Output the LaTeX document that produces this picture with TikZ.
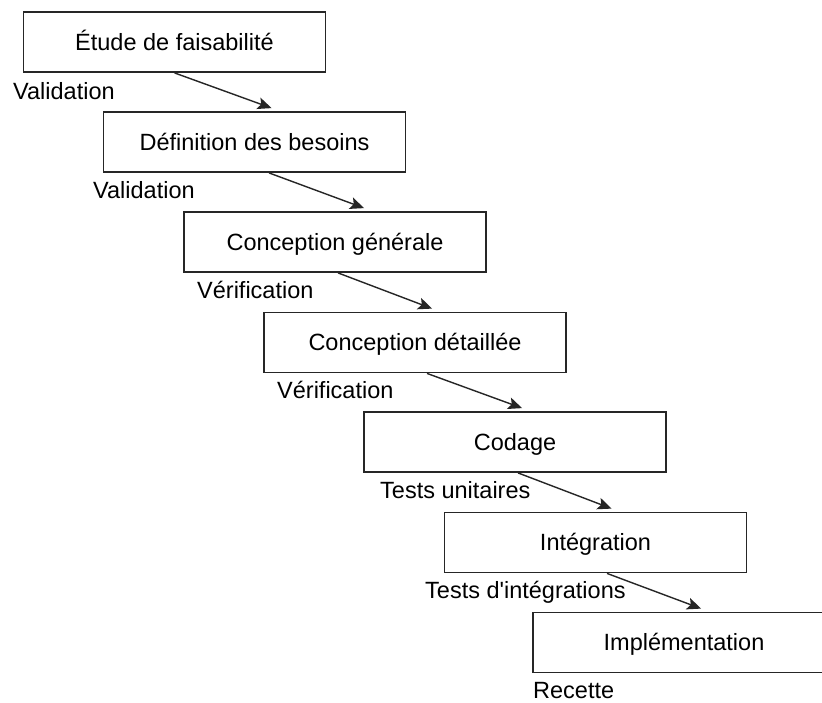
\documentclass[tikz,border=0pt]{standalone}
\usepackage{fontspec}
\setmainfont{Liberation Sans}
\usetikzlibrary{arrows.meta}
\begin{document}
\begin{tikzpicture}[x=1pt,y=-1pt,
  phase/.style={draw=black!85,line width=1.8pt,fill=white,minimum width=302pt,minimum height=60pt,
    inner sep=0pt,text height=17pt,text depth=1pt,font=\fontsize{23.5}{27}\selectfont},
  lbl/.style={anchor=base west,inner sep=0pt,font=\fontsize{23.5}{27}\selectfont},
  arr/.style={draw=black!85,line width=1.4pt,-{Stealth[length=14pt,width=12pt,inset=3pt]}}]
\clip (0,0) rectangle (822,702);
\fill[white] (0,0) rectangle (822,702);
\node[phase] (b1) at (174.5,42) {Étude de faisabilité};
\node[phase] (b2) at (254.5,142) {Définition des besoins};
\node[phase] (b3) at (335,242) {Conception générale};
\node[phase] (b4) at (415,342.5) {Conception détaillée};
\node[phase] (b5) at (515,442) {Codage};
\node[phase] (b6) at (595.5,542.5) {Intégration};
\node[phase] (b7) at (684,642.5) {Implémentation};
\node[lbl] (l1) at (13,99) {Validation};
\node[lbl] (l2) at (93,198) {Validation};
\node[lbl] (l3) at (197,298) {Vérification};
\node[lbl] (l4) at (277,398) {Vérification};
\node[lbl] (l5) at (380,498) {Tests unitaires};
\node[lbl] (l6) at (425,598) {Tests d\textquotesingle intégrations};
\node[lbl] (l7) at (533,698) {Recette};
\draw[arr] (b1.south) -- ([xshift=169pt,yshift=3pt]b2.north west);
\draw[arr] ([xshift=14.5pt]b2.south) -- ([xshift=181pt,yshift=3pt]b3.north west);
\draw[arr] ([xshift=3pt]b3.south) -- ([xshift=169pt,yshift=3pt]b4.north west);
\draw[arr] ([xshift=12pt]b4.south) -- ([xshift=159pt,yshift=3pt]b5.north west);
\draw[arr] ([xshift=3pt]b5.south) -- ([xshift=168pt,yshift=3pt]b6.north west);
\draw[arr] ([xshift=11.5pt]b6.south) -- ([xshift=169pt,yshift=3pt]b7.north west);
\end{tikzpicture}
\end{document}
